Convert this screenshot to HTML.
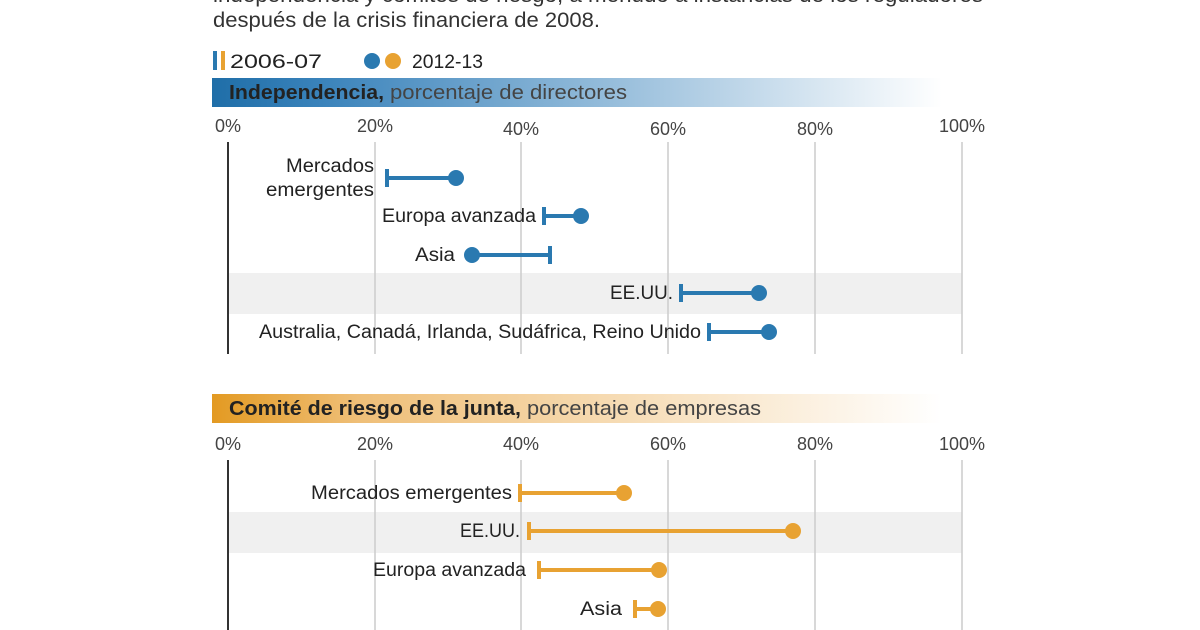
<!DOCTYPE html>
<html><head><meta charset="utf-8"><style>
body{margin:0;background:#fff;}
svg{display:block;font-family:"Liberation Sans Narrow","Liberation Sans",sans-serif;}
</style></head><body>
<svg width="1200" height="630" viewBox="0 0 1200 630">
<defs>
<linearGradient id="gb" x1="0" x2="1"><stop offset="0" stop-color="#1f6ea8"/><stop offset="0.15" stop-color="#3a83bb"/><stop offset="1" stop-color="#fff"/></linearGradient>
<linearGradient id="go" x1="0" x2="1"><stop offset="0" stop-color="#e39a22"/><stop offset="0.2" stop-color="#efbf78"/><stop offset="1" stop-color="#fff"/></linearGradient>
</defs>
<g font-size="21" fill="#333">
<text x="213" y="2" textLength="770" lengthAdjust="spacingAndGlyphs">independencia y comités de riesgo, a menudo a instancias de los reguladores</text>
<text x="213" y="27" textLength="387" lengthAdjust="spacingAndGlyphs">después de la crisis financiera de 2008.</text>
</g>
<!-- legend -->
<rect x="213" y="51" width="4" height="19" fill="#2a79b0"/><rect x="221" y="51" width="4" height="19" fill="#e8a232"/>
<text x="230" y="68" font-size="19" fill="#222" textLength="92" lengthAdjust="spacingAndGlyphs">2006-07</text>
<circle cx="372" cy="61" r="8" fill="#2a79b0"/><circle cx="393" cy="61" r="8" fill="#e8a232"/>
<text x="412" y="68" font-size="19" fill="#222" textLength="71" lengthAdjust="spacingAndGlyphs">2012-13</text>
<!-- header 1 -->
<rect x="212" y="78" width="730" height="29" fill="url(#gb)"/>
<text x="229" y="99" font-size="20" fill="#222"><tspan font-weight="bold" textLength="155" lengthAdjust="spacingAndGlyphs">Independencia,</tspan><tspan fill="#444" dx="6" textLength="237" lengthAdjust="spacingAndGlyphs">porcentaje de directores</tspan></text>
<!-- header 2 -->
<rect x="212" y="394" width="730" height="29" fill="url(#go)"/>
<text x="229" y="415" font-size="20" fill="#222"><tspan font-weight="bold" textLength="292" lengthAdjust="spacingAndGlyphs">Comité de riesgo de la junta,</tspan><tspan fill="#444" dx="6" textLength="234" lengthAdjust="spacingAndGlyphs">porcentaje de empresas</tspan></text>
<!-- chart 1 -->
<rect x="228" y="273" width="734" height="41" fill="#f0f0f0"/>
<g stroke="#ccc" stroke-width="1.5"><line x1="375" y1="142" x2="375" y2="354"/><line x1="521" y1="142" x2="521" y2="354"/><line x1="668" y1="142" x2="668" y2="354"/><line x1="815" y1="142" x2="815" y2="354"/><line x1="962" y1="142" x2="962" y2="354"/></g>
<line x1="228" y1="142" x2="228" y2="354" stroke="#333" stroke-width="2"/>
<g font-size="18" fill="#444" text-anchor="middle"><text x="228" y="132">0%</text><text x="375" y="132">20%</text><text x="521" y="135">40%</text><text x="668" y="135">60%</text><text x="815" y="135">80%</text><text x="962" y="132">100%</text></g>
<!-- chart 2 -->
<rect x="228" y="512" width="734" height="41" fill="#f0f0f0"/>
<g stroke="#ccc" stroke-width="1.5"><line x1="375" y1="460" x2="375" y2="630"/><line x1="521" y1="460" x2="521" y2="630"/><line x1="668" y1="460" x2="668" y2="630"/><line x1="815" y1="460" x2="815" y2="630"/><line x1="962" y1="460" x2="962" y2="630"/></g>
<line x1="228" y1="460" x2="228" y2="630" stroke="#333" stroke-width="2"/>
<g font-size="18" fill="#444" text-anchor="middle"><text x="228" y="450">0%</text><text x="375" y="450">20%</text><text x="521" y="450">40%</text><text x="668" y="450">60%</text><text x="815" y="450">80%</text><text x="962" y="450">100%</text></g>
<!-- series blue -->
<g stroke="#2a79b0" stroke-width="4" fill="#2a79b0">
<line x1="387" y1="178" x2="456" y2="178"/><line x1="387" y1="169" x2="387" y2="187"/><circle cx="456" cy="178" r="8" stroke="none"/>
<line x1="544" y1="216" x2="581" y2="216"/><line x1="544" y1="207" x2="544" y2="225"/><circle cx="581" cy="216" r="8" stroke="none"/>
<line x1="472" y1="255" x2="550" y2="255"/><line x1="550" y1="246" x2="550" y2="264"/><circle cx="472" cy="255" r="8" stroke="none"/>
<line x1="681" y1="293" x2="759" y2="293"/><line x1="681" y1="284" x2="681" y2="302"/><circle cx="759" cy="293" r="8" stroke="none"/>
<line x1="709" y1="332" x2="769" y2="332"/><line x1="709" y1="323" x2="709" y2="341"/><circle cx="769" cy="332" r="8" stroke="none"/>
</g>
<g font-size="19" fill="#222" text-anchor="end">
<text x="374" y="172" textLength="88" lengthAdjust="spacingAndGlyphs">Mercados</text><text x="374" y="196" textLength="108" lengthAdjust="spacingAndGlyphs">emergentes</text>
<text x="536" y="222" textLength="154" lengthAdjust="spacingAndGlyphs">Europa avanzada</text>
<text x="455" y="261" textLength="40" lengthAdjust="spacingAndGlyphs">Asia</text>
<text x="673" y="299" textLength="63" lengthAdjust="spacingAndGlyphs">EE.UU.</text>
<text x="701" y="338" textLength="442" lengthAdjust="spacingAndGlyphs">Australia, Canadá, Irlanda, Sudáfrica, Reino Unido</text>
</g>
<!-- series orange -->
<g stroke="#e8a232" stroke-width="4" fill="#e8a232">
<line x1="520" y1="493" x2="624" y2="493"/><line x1="520" y1="484" x2="520" y2="502"/><circle cx="624" cy="493" r="8" stroke="none"/>
<line x1="529" y1="531" x2="793" y2="531"/><line x1="529" y1="522" x2="529" y2="540"/><circle cx="793" cy="531" r="8" stroke="none"/>
<line x1="539" y1="570" x2="659" y2="570"/><line x1="539" y1="561" x2="539" y2="579"/><circle cx="659" cy="570" r="8" stroke="none"/>
<line x1="635" y1="609" x2="658" y2="609"/><line x1="635" y1="600" x2="635" y2="618"/><circle cx="658" cy="609" r="8" stroke="none"/>
</g>
<g font-size="19" fill="#222" text-anchor="end">
<text x="512" y="499" textLength="201" lengthAdjust="spacingAndGlyphs">Mercados emergentes</text>
<text x="520" y="537" textLength="60" lengthAdjust="spacingAndGlyphs">EE.UU.</text>
<text x="526" y="576" textLength="153" lengthAdjust="spacingAndGlyphs">Europa avanzada</text>
<text x="622" y="615" textLength="42" lengthAdjust="spacingAndGlyphs">Asia</text>
</g>
</svg>
</body></html>
